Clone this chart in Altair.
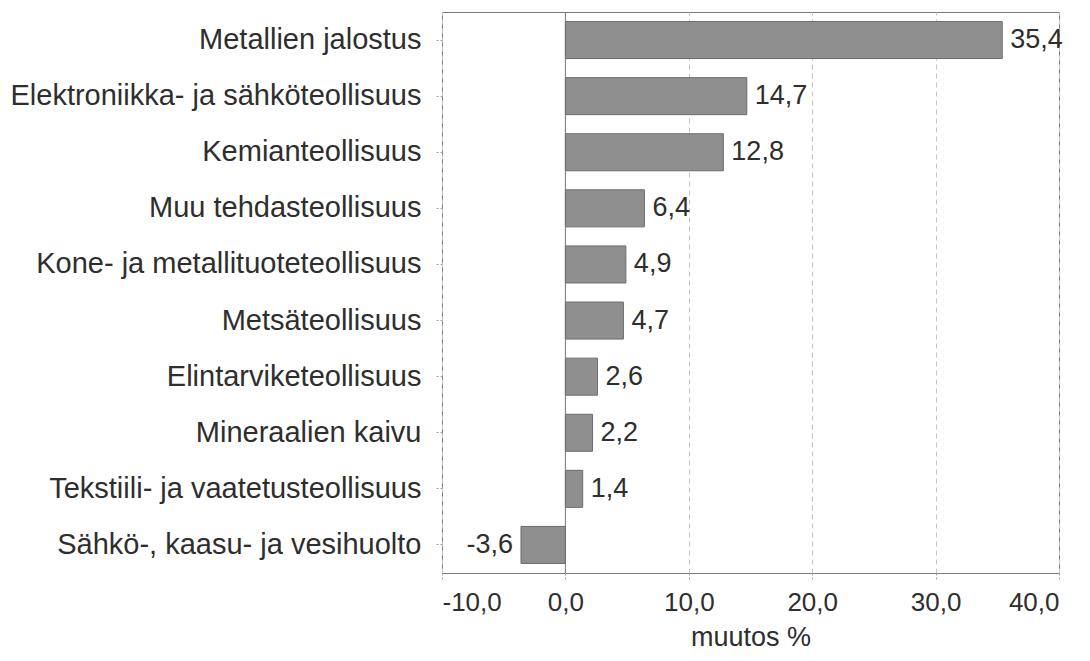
import altair as alt
import pandas as pd

categories = [
    "Metallien jalostus",
    "Elektroniikka- ja sähköteollisuus",
    "Kemianteollisuus",
    "Muu tehdasteollisuus",
    "Kone- ja metallituoteteollisuus",
    "Metsäteollisuus",
    "Elintarviketeollisuus",
    "Mineraalien kaivu",
    "Tekstiili- ja vaatetusteollisuus",
    "Sähkö-, kaasu- ja vesihuolto",
]
values = [35.4, 14.7, 12.8, 6.4, 4.9, 4.7, 2.6, 2.2, 1.4, -3.6]
x_ticks = [-10, 0, 10, 20, 30, 40]

df = pd.DataFrame({
    "cat": categories,
    "val": values,
    "lbl": [f"{v:.1f}".replace(".", ",") for v in values],
})

FONT = "Liberation Sans"
TXT = "#2e2e2e"

xscale = alt.Scale(domain=[-10, 40], nice=False, zero=False)
yscale = alt.Scale(domain=categories, paddingInner=0.34, paddingOuter=0.17)

base = alt.Chart(df)

bars = base.mark_bar(fill="#8f8f8f", stroke="#6c6c6c", strokeWidth=1).encode(
    x=alt.X("val:Q", scale=xscale,
            axis=alt.Axis(values=x_ticks, title="muutos %",
                          labelExpr="replace(replace(format(datum.value, '.1f'), '.', ','), '\u2212', '-')",
                          labelFont=FONT, labelFontSize=26, labelColor=TXT,
                          titleFont=FONT, titleFontSize=27, titleFontWeight="normal",
                          titleColor=TXT, titlePadding=9,
                          tickSize=7, tickColor="#a0a0a0", tickDash=[2, 2],
                          labelPadding=9, domain=False,
                          grid=True, gridColor="#c4c4c4", gridDash=[5, 4],
                          gridWidth=1)),
    y=alt.Y("cat:N", scale=yscale, sort=categories,
            axis=alt.Axis(title=None, labelFont=FONT, labelFontSize=29,
                          labelColor=TXT, tickSize=7, tickColor="#a0a0a0",
                          tickDash=[2, 2], labelPadding=14, domain=False,
                          labelLimit=600)),
)

zero = alt.Chart(pd.DataFrame({"z": [0]})).mark_rule(color="#7a7a7a", strokeWidth=1).encode(
    x=alt.X("z:Q", scale=xscale)
)

pos_lbl = base.transform_filter("datum.val >= 0").mark_text(
    align="left", baseline="middle", dx=8, font=FONT, fontSize=27, color=TXT
).encode(
    x=alt.X("val:Q", scale=xscale),
    y=alt.Y("cat:N", scale=yscale, sort=categories),
    text="lbl:N",
)

neg_lbl = base.transform_filter("datum.val < 0").mark_text(
    align="right", baseline="middle", dx=-8, font=FONT, fontSize=27, color=TXT
).encode(
    x=alt.X("val:Q", scale=xscale),
    y=alt.Y("cat:N", scale=yscale, sort=categories),
    text="lbl:N",
)

chart = alt.layer(zero, bars, pos_lbl, neg_lbl).properties(
    width=617,
    height=561,
    autosize=alt.AutoSizeParams(type="none"),
    padding={"left": 434, "top": 4, "right": 23, "bottom": 80},
    background="white",
).configure_view(stroke="#7a7a7a", strokeWidth=1)

chart.save("out.html", embed_options={"renderer": "svg", "actions": False})
